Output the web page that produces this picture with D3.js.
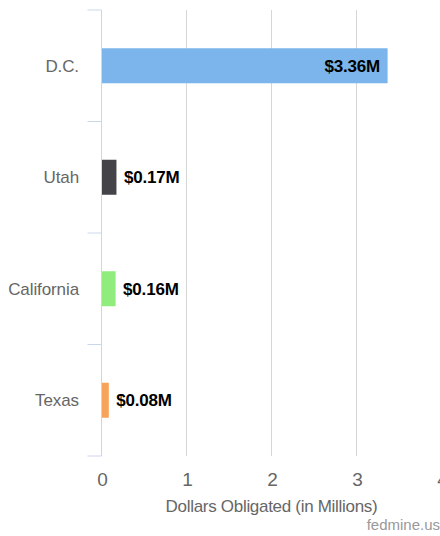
<!DOCTYPE html>
<html>
<head>
<meta charset="utf-8">
<script src="https://cdn.jsdelivr.net/npm/d3@7"></script>
<style>
  body { margin: 0; background: #fff; }
  svg { display: block; font-family: "Liberation Sans", Arial, sans-serif; }
</style>
</head>
<body>
<svg id="chart" width="440" height="536"></svg>
<script>
// chart data
const states = ['D.C.', 'Utah', 'California', 'Texas'];
const amounts = [3.36, 0.17, 0.16, 0.08];
const barLabels = ['$3.36M', '$0.17M', '$0.16M', '$0.08M'];
const barColors = ['#7cb5ec', '#434348', '#90ed7d', '#f7a35c'];
const xTicks = [0, 1, 2, 3, 4];

document.addEventListener('DOMContentLoaded', function () {
    const svg = d3.select('#chart');
    const margin = { top: 10, left: 101.5, bottom: 80 };
    const plotRight = 441.5;
    const plotBottom = 456;

    const x = d3.scaleLinear().domain([0, 4]).range([margin.left, plotRight]);
    const y = d3.scaleBand().domain(states).range([margin.top, plotBottom]);

    // vertical grid lines
    svg.append('g')
        .selectAll('line')
        .data(xTicks.filter(d => d > 0))
        .enter()
        .append('line')
        .attr('x1', d => x(d))
        .attr('x2', d => x(d))
        .attr('y1', margin.top)
        .attr('y2', plotBottom)
        .attr('stroke', '#d6d6d6')
        .attr('stroke-width', 1);

    // bars
    const data = states.map((s, i) => ({ state: s, value: amounts[i], label: barLabels[i], color: barColors[i] }));
    const barH = 35;

    svg.append('g')
        .selectAll('rect')
        .data(data)
        .enter()
        .append('rect')
        .attr('x', x(0) + 0.5)
        .attr('y', d => y(d.state) + y.bandwidth() / 2 - barH / 2)
        .attr('width', d => x(d.value) - x(0))
        .attr('height', barH)
        .attr('fill', d => d.color);

    // data labels: inside for the long bar, outside for short ones
    svg.append('g')
        .selectAll('text')
        .data(data)
        .enter()
        .append('text')
        .attr('x', d => d.value > 1 ? x(d.value) - 7 : x(d.value) + 8)
        .attr('y', d => y(d.state) + y.bandwidth() / 2)
        .attr('dy', '0.35em')
        .attr('text-anchor', d => d.value > 1 ? 'end' : 'start')
        .attr('font-size', 17)
        .attr('font-weight', 'bold')
        .attr('letter-spacing', -0.2)
        .attr('fill', '#000')
        .text(d => d.label);

    // y axis line and ticks at band edges
    const axisG = svg.append('g');
    axisG.append('line')
        .attr('x1', margin.left).attr('x2', margin.left)
        .attr('y1', margin.top).attr('y2', plotBottom)
        .attr('stroke', '#ccd6eb').attr('stroke-width', 1);

    const edges = states.map(s => y(s)).concat([plotBottom]);
    axisG.selectAll('line.tick')
        .data(edges)
        .enter()
        .append('line')
        .attr('class', 'tick')
        .attr('x1', margin.left - 14).attr('x2', margin.left)
        .attr('y1', d => d).attr('y2', d => d)
        .attr('stroke', '#ccd6eb').attr('stroke-width', 1);

    axisG.selectAll('text')
        .data(states)
        .enter()
        .append('text')
        .attr('x', 79)
        .attr('y', d => y(d) + y.bandwidth() / 2)
        .attr('dy', '0.35em')
        .attr('text-anchor', 'end')
        .attr('font-size', 17)
        .attr('letter-spacing', -0.1)
        .attr('fill', '#666')
        .text(d => d);

    // x tick labels
    svg.append('g')
        .selectAll('text')
        .data(xTicks)
        .enter()
        .append('text')
        .attr('x', d => x(d) + 1)
        .attr('y', 485.5)
        .attr('text-anchor', 'middle')
        .attr('font-size', 19)
        .attr('fill', '#666')
        .text(d => d);

    // axis title
    svg.append('text')
        .attr('x', (margin.left + plotRight) / 2)
        .attr('y', 512)
        .attr('text-anchor', 'middle')
        .attr('font-size', 17)
        .attr('letter-spacing', -0.3)
        .attr('fill', '#666')
        .text('Dollars Obligated (in Millions)');

    // credits
    svg.append('text')
        .attr('x', 440)
        .attr('y', 530)
        .attr('text-anchor', 'end')
        .attr('font-size', 15)
        .attr('fill', '#999')
        .text('fedmine.us');
});
</script>
</body>
</html>
